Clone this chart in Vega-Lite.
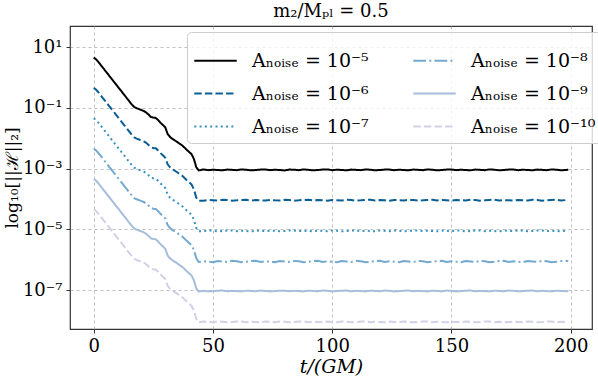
{
"$schema": "https://vega.github.io/schema/vega-lite/v6.json",
"width": 522, "height": 303,
"autosize": {"type": "none"},
"padding": {"left": 70, "top": 26, "right": 6, "bottom": 53},
"background": "white",
"config": {"view": {"stroke": "#333333", "strokeWidth": 1.2}, "font": "DejaVu Serif"},
"title": {"text": "m₂/Mₚₗ = 0.5", "fontSize": 18, "fontWeight": "normal", "font": "DejaVu Serif", "offset": 5, "anchor": "middle", "color": "black"},
"data": {"values": [
{"t":0,"a":4.57e0,"b":4.57e-1,"c":4.57e-2,"d":4.57e-3,"e":4.57e-4,"f":4.57e-5},
{"t":1,"a":3.98e0,"b":3.98e-1,"c":3.98e-2,"d":3.98e-3,"e":3.98e-4,"f":3.98e-5},
{"t":2,"a":3.24e0,"b":3.24e-1,"c":3.24e-2,"d":3.24e-3,"e":3.24e-4,"f":3.24e-5},
{"t":3,"a":2.57e0,"b":2.57e-1,"c":2.57e-2,"d":2.57e-3,"e":2.57e-4,"f":2.57e-5},
{"t":4,"a":2.04e0,"b":2.04e-1,"c":2.04e-2,"d":2.04e-3,"e":2.04e-4,"f":2.04e-5},
{"t":5,"a":1.62e0,"b":1.62e-1,"c":1.62e-2,"d":1.62e-3,"e":1.62e-4,"f":1.62e-5},
{"t":6,"a":1.29e0,"b":1.29e-1,"c":1.29e-2,"d":1.29e-3,"e":1.29e-4,"f":1.29e-5},
{"t":7,"a":1.02e0,"b":1.02e-1,"c":1.02e-2,"d":1.02e-3,"e":1.02e-4,"f":1.02e-5},
{"t":8,"a":8.13e-1,"b":8.13e-2,"c":8.13e-3,"d":8.13e-4,"e":8.13e-5,"f":8.13e-6},
{"t":9,"a":6.46e-1,"b":6.46e-2,"c":6.46e-3,"d":6.46e-4,"e":6.46e-5,"f":6.46e-6},
{"t":10,"a":5.13e-1,"b":5.13e-2,"c":5.13e-3,"d":5.13e-4,"e":5.13e-5,"f":5.13e-6},
{"t":11,"a":4.07e-1,"b":4.07e-2,"c":4.07e-3,"d":4.07e-4,"e":4.07e-5,"f":4.07e-6},
{"t":12,"a":3.24e-1,"b":3.24e-2,"c":3.24e-3,"d":3.24e-4,"e":3.24e-5,"f":3.24e-6},
{"t":13,"a":2.57e-1,"b":2.57e-2,"c":2.57e-3,"d":2.57e-4,"e":2.57e-5,"f":2.57e-6},
{"t":14,"a":2.04e-1,"b":2.04e-2,"c":2.04e-3,"d":2.04e-4,"e":2.04e-5,"f":2.04e-6},
{"t":15,"a":1.62e-1,"b":1.62e-2,"c":1.62e-3,"d":1.62e-4,"e":1.62e-5,"f":1.62e-6},
{"t":16,"a":1.29e-1,"b":1.29e-2,"c":1.29e-3,"d":1.29e-4,"e":1.29e-5,"f":1.29e-6},
{"t":17,"a":1.07e-1,"b":1.07e-2,"c":1.07e-3,"d":1.07e-4,"e":1.07e-5,"f":1.07e-6},
{"t":18,"a":9.77e-2,"b":9.77e-3,"c":9.77e-4,"d":9.77e-5,"e":9.77e-6,"f":9.77e-7},
{"t":19,"a":9.12e-2,"b":9.12e-3,"c":9.12e-4,"d":9.12e-5,"e":9.12e-6,"f":9.12e-7},
{"t":20,"a":8.51e-2,"b":8.51e-3,"c":8.51e-4,"d":8.51e-5,"e":8.51e-6,"f":8.51e-7},
{"t":21,"a":7.94e-2,"b":7.94e-3,"c":7.94e-4,"d":7.94e-5,"e":7.94e-6,"f":7.94e-7},
{"t":22,"a":7.08e-2,"b":7.08e-3,"c":7.08e-4,"d":7.08e-5,"e":7.08e-6,"f":7.08e-7},
{"t":23,"a":6.03e-2,"b":6.03e-3,"c":6.03e-4,"d":6.03e-5,"e":6.03e-6,"f":6.03e-7},
{"t":24,"a":5.01e-2,"b":5.01e-3,"c":5.01e-4,"d":5.01e-5,"e":5.01e-6,"f":5.01e-7},
{"t":25,"a":4.79e-2,"b":4.79e-3,"c":4.79e-4,"d":4.79e-5,"e":4.79e-6,"f":4.79e-7},
{"t":26,"a":4.68e-2,"b":4.68e-3,"c":4.68e-4,"d":4.68e-5,"e":4.68e-6,"f":4.68e-7},
{"t":27,"a":3.98e-2,"b":3.98e-3,"c":3.98e-4,"d":3.98e-5,"e":3.98e-6,"f":3.98e-7},
{"t":28,"a":3.24e-2,"b":3.24e-3,"c":3.24e-4,"d":3.24e-5,"e":3.24e-6,"f":3.24e-7},
{"t":29,"a":2.75e-2,"b":2.75e-3,"c":2.75e-4,"d":2.75e-5,"e":2.75e-6,"f":2.75e-7},
{"t":30,"a":2.29e-2,"b":2.29e-3,"c":2.29e-4,"d":2.29e-5,"e":2.29e-6,"f":2.29e-7},
{"t":31,"a":1.38e-2,"b":1.38e-3,"c":1.38e-4,"d":1.38e-5,"e":1.38e-6,"f":1.38e-7},
{"t":32,"a":1.10e-2,"b":1.10e-3,"c":1.10e-4,"d":1.10e-5,"e":1.10e-6,"f":1.10e-7},
{"t":33,"a":9.55e-3,"b":9.55e-4,"c":9.55e-5,"d":9.55e-6,"e":9.55e-7,"f":9.55e-8},
{"t":34,"a":8.51e-3,"b":8.51e-4,"c":8.51e-5,"d":8.51e-6,"e":8.51e-7,"f":8.51e-8},
{"t":35,"a":7.59e-3,"b":7.59e-4,"c":7.59e-5,"d":7.59e-6,"e":7.59e-7,"f":7.59e-8},
{"t":36,"a":6.61e-3,"b":6.61e-4,"c":6.61e-5,"d":6.61e-6,"e":6.61e-7,"f":6.61e-8},
{"t":37,"a":5.89e-3,"b":5.89e-4,"c":5.89e-5,"d":5.89e-6,"e":5.89e-7,"f":5.89e-8},
{"t":38,"a":5.01e-3,"b":5.01e-4,"c":5.01e-5,"d":5.01e-6,"e":5.01e-7,"f":5.01e-8},
{"t":39,"a":4.17e-3,"b":4.17e-4,"c":4.17e-5,"d":4.17e-6,"e":4.17e-7,"f":4.17e-8},
{"t":40,"a":3.55e-3,"b":3.55e-4,"c":3.55e-5,"d":3.55e-6,"e":3.55e-7,"f":3.55e-8},
{"t":41,"a":3.02e-3,"b":3.02e-4,"c":3.02e-5,"d":3.02e-6,"e":3.02e-7,"f":3.02e-8},
{"t":42,"a":2.09e-3,"b":2.09e-4,"c":2.09e-5,"d":2.09e-6,"e":2.09e-7,"f":2.09e-8},
{"t":43,"a":1.12e-3,"b":1.12e-4,"c":1.12e-5,"d":1.12e-6,"e":1.12e-7,"f":1.12e-8},
{"t":44,"a":8.71e-4,"b":8.8e-5,"c":8.6e-6,"d":8.4e-7,"e":8.9e-8,"f":8.6e-9},
{"t":46,"a":9.4e-4,"b":8.8e-5,"c":8.7e-6,"d":8.85e-7,"e":9.4e-8,"f":9.1e-9},
{"t":48,"a":8.9e-4,"b":9.3e-5,"c":9.2e-6,"d":8.55e-7,"e":9.0e-8,"f":8.9e-9},
{"t":50,"a":9.2e-4,"b":9.1e-5,"c":9.0e-6,"d":8.25e-7,"e":9.2e-8,"f":8.7e-9},
{"t":52,"a":9.0e-4,"b":8.9e-5,"c":8.6e-6,"d":9.0e-7,"e":9.5e-8,"f":9.2e-9},
{"t":54,"a":8.8e-4,"b":9.4e-5,"c":8.8e-6,"d":8.7e-7,"e":9.6e-8,"f":9.0e-9},
{"t":56,"a":9.3e-4,"b":9.2e-5,"c":9.1e-6,"d":8.4e-7,"e":9.1e-8,"f":8.6e-9},
{"t":58,"a":9.1e-4,"b":8.8e-5,"c":9.2e-6,"d":9.15e-7,"e":9.4e-8,"f":8.8e-9},
{"t":60,"a":8.9e-4,"b":9.0e-5,"c":8.7e-6,"d":8.85e-7,"e":9.2e-8,"f":9.1e-9},
{"t":62,"a":9.4e-4,"b":9.3e-5,"c":9.0e-6,"d":8.25e-7,"e":9.0e-8,"f":9.2e-9},
{"t":64,"a":9.2e-4,"b":9.4e-5,"c":8.8e-6,"d":8.55e-7,"e":9.5e-8,"f":8.7e-9},
{"t":66,"a":8.8e-4,"b":8.9e-5,"c":8.6e-6,"d":9.0e-7,"e":9.3e-8,"f":9.0e-9},
{"t":68,"a":9.0e-4,"b":9.2e-5,"c":9.1e-6,"d":9.15e-7,"e":9.1e-8,"f":8.8e-9},
{"t":70,"a":9.3e-4,"b":9.0e-5,"c":8.9e-6,"d":8.4e-7,"e":9.6e-8,"f":8.6e-9},
{"t":72,"a":9.3e-4,"b":8.9e-5,"c":8.7e-6,"d":8.85e-7,"e":9.3e-8,"f":9.1e-9},
{"t":74,"a":8.9e-4,"b":9.3e-5,"c":9.1e-6,"d":8.55e-7,"e":9.0e-8,"f":8.9e-9},
{"t":76,"a":9.2e-4,"b":9.0e-5,"c":9.0e-6,"d":8.3e-7,"e":9.2e-8,"f":8.7e-9},
{"t":78,"a":9.0e-4,"b":8.9e-5,"c":8.7e-6,"d":9.0e-7,"e":9.5e-8,"f":9.1e-9},
{"t":80,"a":8.7e-4,"b":9.4e-5,"c":8.8e-6,"d":8.7e-7,"e":9.5e-8,"f":9.0e-9},
{"t":82,"a":9.3e-4,"b":9.2e-5,"c":9.1e-6,"d":8.4e-7,"e":9.1e-8,"f":8.6e-9},
{"t":84,"a":9.2e-4,"b":8.8e-5,"c":9.2e-6,"d":9.1e-7,"e":9.4e-8,"f":8.8e-9},
{"t":86,"a":8.9e-4,"b":9.0e-5,"c":8.7e-6,"d":8.9e-7,"e":9.2e-8,"f":9.1e-9},
{"t":88,"a":9.4e-4,"b":9.3e-5,"c":9.0e-6,"d":8.25e-7,"e":9.0e-8,"f":9.2e-9},
{"t":90,"a":9.1e-4,"b":9.4e-5,"c":8.8e-6,"d":8.55e-7,"e":9.5e-8,"f":8.7e-9},
{"t":92,"a":8.8e-4,"b":8.9e-5,"c":8.6e-6,"d":9.0e-7,"e":9.3e-8,"f":9.0e-9},
{"t":94,"a":9.0e-4,"b":9.2e-5,"c":9.1e-6,"d":9.15e-7,"e":9.1e-8,"f":8.8e-9},
{"t":96,"a":9.3e-4,"b":9.0e-5,"c":8.9e-6,"d":8.4e-7,"e":9.6e-8,"f":8.6e-9},
{"t":98,"a":9.4e-4,"b":8.8e-5,"c":8.7e-6,"d":8.85e-7,"e":9.4e-8,"f":9.1e-9},
{"t":100,"a":8.9e-4,"b":9.3e-5,"c":9.2e-6,"d":8.55e-7,"e":9.0e-8,"f":8.9e-9},
{"t":102,"a":9.2e-4,"b":9.1e-5,"c":9.0e-6,"d":8.25e-7,"e":9.2e-8,"f":8.7e-9},
{"t":104,"a":9.0e-4,"b":8.9e-5,"c":8.6e-6,"d":9.0e-7,"e":9.5e-8,"f":9.2e-9},
{"t":106,"a":8.8e-4,"b":9.4e-5,"c":8.8e-6,"d":8.7e-7,"e":9.6e-8,"f":9.0e-9},
{"t":108,"a":9.3e-4,"b":9.2e-5,"c":9.1e-6,"d":8.4e-7,"e":9.1e-8,"f":8.6e-9},
{"t":110,"a":9.1e-4,"b":8.8e-5,"c":9.2e-6,"d":9.15e-7,"e":9.4e-8,"f":8.8e-9},
{"t":112,"a":8.9e-4,"b":9.0e-5,"c":8.7e-6,"d":8.85e-7,"e":9.2e-8,"f":9.1e-9},
{"t":114,"a":9.4e-4,"b":9.3e-5,"c":9.0e-6,"d":8.25e-7,"e":9.0e-8,"f":9.2e-9},
{"t":116,"a":9.2e-4,"b":9.4e-5,"c":8.8e-6,"d":8.55e-7,"e":9.5e-8,"f":8.7e-9},
{"t":118,"a":8.8e-4,"b":8.9e-5,"c":8.6e-6,"d":9.0e-7,"e":9.3e-8,"f":9.0e-9},
{"t":120,"a":9.0e-4,"b":9.2e-5,"c":9.1e-6,"d":9.15e-7,"e":9.1e-8,"f":8.8e-9},
{"t":122,"a":9.3e-4,"b":9.0e-5,"c":8.9e-6,"d":8.4e-7,"e":9.6e-8,"f":8.6e-9},
{"t":124,"a":9.3e-4,"b":8.8e-5,"c":8.7e-6,"d":8.85e-7,"e":9.4e-8,"f":9.1e-9},
{"t":126,"a":8.9e-4,"b":9.3e-5,"c":9.2e-6,"d":8.55e-7,"e":9.0e-8,"f":8.9e-9},
{"t":128,"a":9.2e-4,"b":9.1e-5,"c":9.0e-6,"d":8.25e-7,"e":9.2e-8,"f":8.7e-9},
{"t":130,"a":9.0e-4,"b":8.9e-5,"c":8.6e-6,"d":9.0e-7,"e":9.5e-8,"f":9.2e-9},
{"t":132,"a":8.8e-4,"b":9.4e-5,"c":8.8e-6,"d":8.7e-7,"e":9.6e-8,"f":9.0e-9},
{"t":134,"a":9.3e-4,"b":9.2e-5,"c":9.1e-6,"d":8.4e-7,"e":9.1e-8,"f":8.6e-9},
{"t":136,"a":9.1e-4,"b":8.8e-5,"c":9.2e-6,"d":9.15e-7,"e":9.4e-8,"f":8.8e-9},
{"t":138,"a":8.9e-4,"b":9.0e-5,"c":8.7e-6,"d":8.85e-7,"e":9.2e-8,"f":9.1e-9},
{"t":140,"a":9.4e-4,"b":9.3e-5,"c":9.0e-6,"d":8.25e-7,"e":9.0e-8,"f":9.2e-9},
{"t":142,"a":9.2e-4,"b":9.4e-5,"c":8.8e-6,"d":8.55e-7,"e":9.5e-8,"f":8.7e-9},
{"t":144,"a":8.8e-4,"b":8.9e-5,"c":8.6e-6,"d":9.0e-7,"e":9.3e-8,"f":9.0e-9},
{"t":146,"a":9.0e-4,"b":9.2e-5,"c":9.1e-6,"d":9.15e-7,"e":9.1e-8,"f":8.8e-9},
{"t":148,"a":9.3e-4,"b":9.0e-5,"c":8.9e-6,"d":8.4e-7,"e":9.6e-8,"f":8.6e-9},
{"t":150,"a":9.4e-4,"b":8.8e-5,"c":8.7e-6,"d":8.85e-7,"e":9.4e-8,"f":9.1e-9},
{"t":152,"a":8.9e-4,"b":9.3e-5,"c":9.2e-6,"d":8.55e-7,"e":9.0e-8,"f":8.9e-9},
{"t":154,"a":9.2e-4,"b":9.1e-5,"c":9.0e-6,"d":8.25e-7,"e":9.2e-8,"f":8.7e-9},
{"t":156,"a":9.0e-4,"b":8.9e-5,"c":8.6e-6,"d":9.0e-7,"e":9.5e-8,"f":9.2e-9},
{"t":158,"a":8.8e-4,"b":9.4e-5,"c":8.8e-6,"d":8.7e-7,"e":9.6e-8,"f":9.0e-9},
{"t":160,"a":9.3e-4,"b":9.2e-5,"c":9.1e-6,"d":8.4e-7,"e":9.1e-8,"f":8.6e-9},
{"t":162,"a":9.1e-4,"b":8.8e-5,"c":9.2e-6,"d":9.15e-7,"e":9.4e-8,"f":8.8e-9},
{"t":164,"a":8.9e-4,"b":9.0e-5,"c":8.7e-6,"d":8.85e-7,"e":9.2e-8,"f":9.1e-9},
{"t":166,"a":9.4e-4,"b":9.3e-5,"c":9.0e-6,"d":8.25e-7,"e":9.0e-8,"f":9.2e-9},
{"t":168,"a":9.2e-4,"b":9.4e-5,"c":8.8e-6,"d":8.55e-7,"e":9.5e-8,"f":8.7e-9},
{"t":170,"a":8.8e-4,"b":8.9e-5,"c":8.6e-6,"d":9.0e-7,"e":9.3e-8,"f":9.0e-9},
{"t":172,"a":9.0e-4,"b":9.2e-5,"c":9.1e-6,"d":9.15e-7,"e":9.1e-8,"f":8.8e-9},
{"t":174,"a":9.3e-4,"b":9.0e-5,"c":8.9e-6,"d":8.4e-7,"e":9.6e-8,"f":8.6e-9},
{"t":176,"a":9.3e-4,"b":8.8e-5,"c":8.7e-6,"d":8.85e-7,"e":9.4e-8,"f":9.1e-9},
{"t":178,"a":8.9e-4,"b":9.3e-5,"c":9.2e-6,"d":8.55e-7,"e":9.0e-8,"f":8.9e-9},
{"t":180,"a":9.2e-4,"b":9.1e-5,"c":9.0e-6,"d":8.25e-7,"e":9.2e-8,"f":8.7e-9},
{"t":182,"a":9.0e-4,"b":8.9e-5,"c":8.6e-6,"d":9.0e-7,"e":9.5e-8,"f":9.2e-9},
{"t":184,"a":8.8e-4,"b":9.4e-5,"c":8.8e-6,"d":8.7e-7,"e":9.6e-8,"f":9.0e-9},
{"t":186,"a":9.3e-4,"b":9.2e-5,"c":9.1e-6,"d":8.4e-7,"e":9.1e-8,"f":8.6e-9},
{"t":188,"a":9.1e-4,"b":8.8e-5,"c":9.2e-6,"d":9.15e-7,"e":9.4e-8,"f":8.8e-9},
{"t":190,"a":8.9e-4,"b":9.0e-5,"c":8.7e-6,"d":8.85e-7,"e":9.2e-8,"f":9.1e-9},
{"t":192,"a":9.4e-4,"b":9.3e-5,"c":9.0e-6,"d":8.25e-7,"e":9.0e-8,"f":9.2e-9},
{"t":194,"a":9.2e-4,"b":9.4e-5,"c":8.8e-6,"d":8.55e-7,"e":9.5e-8,"f":8.7e-9},
{"t":196,"a":8.8e-4,"b":8.9e-5,"c":8.6e-6,"d":9.0e-7,"e":9.3e-8,"f":9.0e-9},
{"t":198,"a":9.0e-4,"b":9.2e-5,"c":9.1e-6,"d":9.15e-7,"e":9.1e-8,"f":8.8e-9},
{"t":199,"a":9.2e-4,"b":9.3e-5,"c":9.0e-6,"d":8.8e-7,"e":9.3e-8,"f":8.9e-9}
]},
"transform": [{"fold": ["a", "b", "c", "d", "e", "f"], "as": ["s", "v"]}],
"mark": {"type": "line", "strokeWidth": 2, "clip": true},
"encoding": {
  "x": {"field": "t", "type": "quantitative",
    "scale": {"domain": [-9.95, 208.95], "nice": false, "zero": false},
    "axis": {"values": [0, 50, 100, 150, 200], "title": "t/(GM)", "titleFontStyle": "italic", "titleFontSize": 19, "titleFontWeight": "normal", "titleFont": "DejaVu Serif", "titlePadding": 2,
      "labelFontSize": 18, "labelFont": "DejaVu Serif", "labelColor": "black", "labelPadding": 4,
      "domain": false, "ticks": true, "tickSize": 4, "tickColor": "#333333",
      "grid": true, "gridColor": "#b0b0b0", "gridDash": [3, 3], "gridWidth": 0.8, "titleColor": "black"}},
  "y": {"field": "v", "type": "quantitative",
    "scale": {"type": "log", "domain": [5.19e-9, 50.1], "nice": false},
    "axis": {"values": [10, 0.1, 0.001, 0.00001, 0.0000001],
      "labelExpr": "datum.value >= 5 ? '10¹' : datum.value >= 0.05 ? '10⁻¹' : datum.value >= 0.0005 ? '10⁻³' : datum.value >= 0.000005 ? '10⁻⁵' : '10⁻⁷'",
      "title": "log₁₀[||ℋ||₂]", "titleFontSize": 17, "titleFontWeight": "normal", "titleFont": "DejaVu Serif", "titlePadding": 1, "titleColor": "black",
      "labelFontSize": 18, "labelFont": "DejaVu Serif", "labelColor": "black", "labelPadding": 4,
      "domain": false, "ticks": true, "tickSize": 4, "tickColor": "#333333",
      "grid": true, "gridColor": "#b0b0b0", "gridDash": [3, 3], "gridWidth": 0.8}},
  "color": {"field": "s", "type": "nominal",
    "scale": {"domain": ["a", "b", "c", "d", "e", "f"], "range": ["#000000", "#0a5e94", "#3690c0", "#74a9cf", "#a6bddb", "#d0d1e6"]},
    "legend": {"orient": "none", "legendX": 117, "legendY": 6, "columns": 2, "title": null, "symbolType": "stroke", "symbolSize": 1800, "symbolStrokeWidth": 2,
      "labelFontSize": 19, "labelFont": "DejaVu Serif", "labelColor": "black", "labelOffset": 14, "columnPadding": 40, "rowPadding": 0, "padding": 6,
      "fillColor": "rgba(255,255,255,0.8)", "strokeColor": "#cccccc", "cornerRadius": 4,
      "labelExpr": "datum.value == 'a' ? 'Aₙₒᵢₛₑ = 10⁻⁵' : datum.value == 'b' ? 'Aₙₒᵢₛₑ = 10⁻⁶' : datum.value == 'c' ? 'Aₙₒᵢₛₑ = 10⁻⁷' : datum.value == 'd' ? 'Aₙₒᵢₛₑ = 10⁻⁸' : datum.value == 'e' ? 'Aₙₒᵢₛₑ = 10⁻⁹' : 'Aₙₒᵢₛₑ = 10⁻¹⁰'"}},
  "strokeDash": {"field": "s", "type": "nominal",
    "scale": {"domain": ["a", "b", "c", "d", "e", "f"], "range": [[1, 0], [7.4, 3.2], [2, 3.3], [12.8, 3.2, 2, 3.2], [1, 0], [7.4, 3.2]]},
    "legend": {"orient": "none", "legendX": 117, "legendY": 6, "columns": 2, "title": null, "symbolType": "stroke", "symbolSize": 1800, "symbolStrokeWidth": 2,
      "labelFontSize": 19, "labelFont": "DejaVu Serif", "labelColor": "black", "labelOffset": 14, "columnPadding": 40, "rowPadding": 0, "padding": 6,
      "fillColor": "rgba(255,255,255,0.8)", "strokeColor": "#cccccc", "cornerRadius": 4,
      "labelExpr": "datum.value == 'a' ? 'Aₙₒᵢₛₑ = 10⁻⁵' : datum.value == 'b' ? 'Aₙₒᵢₛₑ = 10⁻⁶' : datum.value == 'c' ? 'Aₙₒᵢₛₑ = 10⁻⁷' : datum.value == 'd' ? 'Aₙₒᵢₛₑ = 10⁻⁸' : datum.value == 'e' ? 'Aₙₒᵢₛₑ = 10⁻⁹' : 'Aₙₒᵢₛₑ = 10⁻¹⁰'"}}
}
}
